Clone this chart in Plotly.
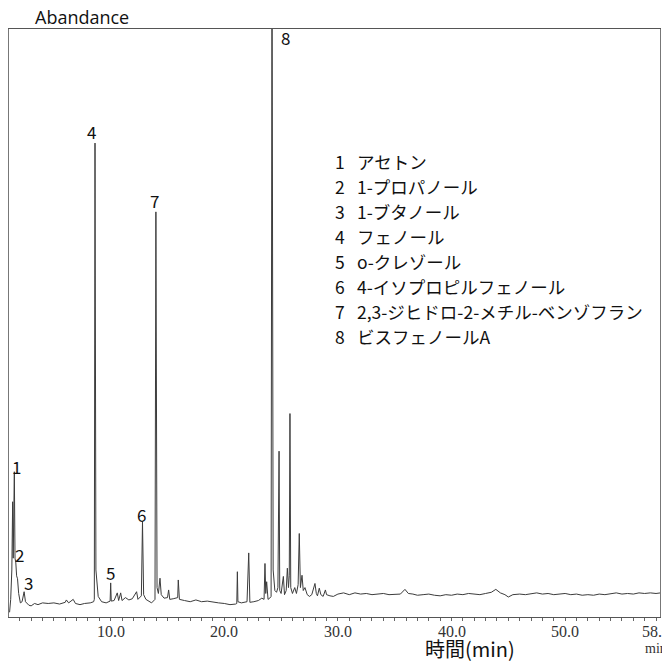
import plotly.graph_objects as go

# ---------------- data ----------------
time_min = [
    1.10, 1.20, 1.30, 1.37, 1.42, 1.52, 1.58, 1.65, 1.72, 1.80, 1.90, 2.05, 2.20, 2.38, 2.50,
    2.80, 3.00, 3.30, 3.60, 4.00, 4.50, 5.00, 5.50, 6.00, 6.10, 6.30, 6.70, 6.90, 7.30, 7.70,
    8.20, 8.50, 8.56, 8.62, 8.70, 8.77, 8.90, 9.20, 9.60, 9.95, 10.00, 10.05, 10.30, 10.58, 10.70,
    10.88, 11.00, 11.30, 11.60, 11.90, 12.28, 12.40, 12.70, 12.80, 12.90, 13.10, 13.40, 13.60, 13.90,
    13.98, 14.08, 14.20, 14.34, 14.45, 14.70, 15.00, 15.10, 15.20, 15.50, 15.90, 15.95, 16.05, 16.50,
    17.00, 17.50, 18.00, 18.50, 19.00, 19.50, 20.00, 20.50, 21.00, 21.10, 21.15, 21.20, 21.50, 22.00,
    22.15, 22.25, 22.60, 23.00, 23.30, 23.50, 23.58, 23.65, 23.73, 23.85, 24.00, 24.12, 24.20, 24.30,
    24.45, 24.60, 24.72, 24.76, 24.79, 24.82, 24.88, 25.00, 25.20, 25.30, 25.45, 25.55, 25.65, 25.72,
    25.78, 25.85, 26.00, 26.20, 26.35, 26.50, 26.60, 26.70, 26.84, 26.95, 27.10, 27.30, 27.50, 27.70,
    27.98, 28.10, 28.20, 28.36, 28.50, 28.70, 28.90, 29.00, 29.30, 29.60, 30.00, 30.50, 31.00, 31.50,
    32.00, 32.50, 33.00, 33.50, 34.00, 34.50, 35.00, 35.50, 35.90, 36.20, 36.60, 37.00, 37.50, 38.00,
    38.50, 39.00, 39.50, 40.00, 40.50, 41.00, 41.50, 42.00, 42.50, 43.00, 43.50, 43.90, 44.30, 44.70,
    45.00, 45.40, 46.00, 46.50, 47.00, 47.50, 48.00, 48.50, 49.00, 49.50, 50.00, 50.50, 51.00, 51.50,
    52.00, 52.50, 53.00, 53.50, 54.00, 54.50, 55.00, 55.50, 56.00, 56.50, 57.00, 57.50, 58.00, 58.40,
]
signal = [
    0.8, 3.0, 8.0, 19.6, 10.0, 24.7, 10.0, 9.2, 7.0, 6.5, 4.0, 2.4, 2.6, 4.3, 2.6,
    2.0, 1.9, 2.3, 2.1, 2.4, 2.3, 2.4, 2.2, 2.5, 2.9, 2.4, 3.0, 2.3, 2.1, 2.3,
    2.4, 2.6, 3.0, 80.6, 8.0, 6.0, 3.5, 2.6, 2.4, 2.7, 5.8, 2.7, 2.8, 4.1, 2.8,
    4.1, 2.8, 3.3, 2.9, 3.1, 4.3, 3.0, 3.6, 16.2, 3.8, 3.0, 2.6, 2.4, 3.0,
    68.9, 5.0, 4.0, 6.6, 3.8, 3.2, 3.3, 4.6, 3.0, 3.1, 3.3, 6.3, 3.0, 2.8,
    2.6, 2.9, 2.6, 2.7, 2.5, 2.4, 2.3, 2.1, 2.2, 2.3, 7.7, 2.6, 2.4, 2.6,
    10.9, 2.5, 2.6, 2.8, 3.2, 3.0, 9.1, 4.0, 6.0, 3.0, 3.2, 3.5, 115.0, 8.0,
    4.5, 4.2, 5.0, 24.0, 10.0, 28.2, 4.5, 4.0, 6.9, 3.8, 4.5, 8.3, 5.0, 7.0,
    34.6, 5.0, 4.0, 5.0, 4.0, 5.5, 14.2, 5.0, 7.1, 4.5, 5.0, 3.8, 3.5, 3.8,
    5.7, 4.0, 3.6, 4.9, 3.8, 3.5, 4.6, 3.8, 3.6, 3.5, 3.9, 4.1, 3.8, 4.1,
    3.9, 4.0, 3.8, 3.9, 4.0, 3.8, 3.9, 3.9, 4.7, 4.0, 3.9, 3.7, 3.8, 3.9,
    3.7, 3.6, 3.8, 3.7, 3.9, 3.8, 4.0, 3.9, 3.8, 4.0, 4.2, 4.7, 4.1, 3.8,
    3.4, 3.8, 3.9, 3.8, 4.0, 4.1, 3.9, 4.0, 3.8, 3.9, 4.0, 3.8, 3.9, 3.7,
    3.8, 3.7, 3.9, 3.8, 4.0, 4.1, 3.9, 4.0, 3.9, 4.1, 4.0, 4.1, 4.0, 4.1,
]

peak_ids = ["1", "2", "3", "4", "5", "6", "7", "8"]
peak_times = [1.52, 1.65, 2.38, 8.62, 10.00, 12.80, 13.98, 24.20]
peak_heights = [24.7, 9.2, 4.3, 80.6, 5.8, 16.2, 68.9, 100.0]

compound_names = [
    "アセトン",
    "1-プロパノール",
    "1-ブタノール",
    "フェノール",
    "o-クレゾール",
    "4-イソプロピルフェノール",
    "2,3-ジヒドロ-2-メチル-ベンゾフラン",
    "ビスフェノールA",
]

tick_values = [10, 20, 30, 40, 50, 58]
tick_labels = ["10.0", "20.0", "30.0", "40.0", "50.0", "58.0"]

x_title = "時間(min)"
x_unit = "min"
y_title = "Abandance"

# ---------------- styling ----------------
W, H = 662, 662
M_L, M_R, M_T, M_B = 9, 2, 29, 45
JP_FONT = "Noto Sans CJK JP"
SERIF = "Liberation Serif"
PW, PH = W - M_L - M_R, H - M_T - M_B
AXIS_Y = H - M_B


def below_axis(px):
    """paper y for a pixel row below the x axis"""
    return -(px - AXIS_Y) / PH


fig = go.Figure()
fig.add_trace(go.Scatter(
    x=time_min, y=signal, mode="lines",
    line=dict(color="#3c3c3c", width=1),
    hoverinfo="skip", showlegend=False,
))

# peak number labels (offsets in px relative to each peak apex)
label_shift = {
    "1": (2, -9), "2": (4, -6), "3": (4, -5), "4": (-4, -3),
    "5": (0, -4), "6": (-1, -7), "7": (-1, -3),
}
annotations = []
for pid, pt, ph in zip(peak_ids, peak_times, peak_heights):
    if pid == "8":
        annotations.append(dict(
            x=pt, y=1.0, xref="x", yref="paper", text=pid, showarrow=False,
            xanchor="left", yanchor="top", xshift=7, yshift=6,
            font=dict(family=JP_FONT, size=17, color="#111"),
        ))
    else:
        dx, dy = label_shift[pid]
        annotations.append(dict(
            x=pt, y=ph, xref="x", yref="y", text=pid, showarrow=False,
            xanchor="center", yanchor="bottom", xshift=dx, yshift=dy,
            font=dict(family=JP_FONT, size=17, color="#111"),
        ))

# compound list
top_px, step_px = 162, 24.9
for i, (pid, name) in enumerate(zip(peak_ids, compound_names)):
    ypaper = 1 - (top_px + i * step_px - M_T) / PH
    annotations.append(dict(
        x=(340 - M_L) / PW, y=ypaper, xref="paper", yref="paper",
        text=pid, showarrow=False, xanchor="center", yanchor="middle",
        font=dict(family=JP_FONT, size=17.5, color="#111"),
    ))
    annotations.append(dict(
        x=(355 - M_L) / PW, y=ypaper, xref="paper", yref="paper",
        text=name, showarrow=False, xanchor="left", yanchor="middle",
        font=dict(family=JP_FONT, size=17.5, color="#111"),
    ))

# x tick labels (drawn as annotations so they sit close to the axis)
for tv, tl in zip(tick_values, tick_labels):
    annotations.append(dict(
        x=tv, y=below_axis(631), xref="x", yref="paper", text=tl,
        showarrow=False, xanchor="center", yanchor="middle",
        font=dict(family=SERIF, size=16, color="#333"),
    ))

# y title (top-left)
annotations.append(dict(
    x=(33 - M_L) / PW, y=1 + (M_T - 17) / PH,
    xref="paper", yref="paper", text=y_title, showarrow=False,
    xanchor="left", yanchor="middle",
    font=dict(family="Open Sans", size=18, color="#111"),
))
# x title (placed right of centre as in the reference)
annotations.append(dict(
    x=(470 - M_L) / PW, y=below_axis(648),
    xref="paper", yref="paper", text=x_title, showarrow=False,
    xanchor="center", yanchor="middle",
    font=dict(family=JP_FONT, size=20, color="#111"),
))
# "min" under last tick label
annotations.append(dict(
    x=58.0, y=below_axis(648), xref="x", yref="paper", text=x_unit,
    showarrow=False, xanchor="center", yanchor="middle",
    font=dict(family=SERIF, size=14, color="#333"),
))

fig.update_layout(
    width=W, height=H,
    margin=dict(l=M_L, r=M_R, t=M_T, b=M_B, autoexpand=False),
    paper_bgcolor="white", plot_bgcolor="white",
    annotations=annotations,
    xaxis=dict(
        range=[1.05, 58.35], showgrid=False, zeroline=False, automargin=False,
        showline=True, linecolor="#555", linewidth=1, mirror=True,
        tickmode="array", tickvals=tick_values, ticktext=[""] * len(tick_values),
        showticklabels=False,
        ticks="outside", ticklen=5, tickcolor="#555", tickwidth=1,
        minor=dict(ticks="outside", ticklen=3, dtick=1, tick0=0, tickcolor="#666", showgrid=False),
    ),
    yaxis=dict(
        range=[0, 100], showgrid=False, zeroline=False, automargin=False,
        showline=True, linecolor="#777", linewidth=1, mirror=True,
        showticklabels=False, ticks="",
    ),
)

fig.write_html("out.html", config={"displayModeBar": False},
               post_script="document.body.style.margin='0';")
